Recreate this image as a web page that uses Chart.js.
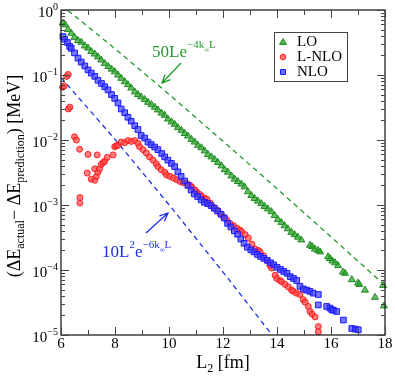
<!DOCTYPE html>
<html>
<head>
<meta charset="utf-8">
<script src="https://cdn.jsdelivr.net/npm/chart.js@4/dist/chart.umd.min.js"></script>
<style>
  html, body { margin: 0; padding: 0; background: #fff; }
  canvas { display: block; }
</style>
</head>
<body>
<canvas id="chart" width="395" height="378"></canvas>
<script>
// LO (triangles)
const loL = [6.06,6.16,6.26,6.38,6.50,6.63,6.75,6.88,7.00,7.12,7.25,7.37,7.49,7.62,7.75,7.87,7.99,8.11,8.23,8.36,8.48,8.60,8.73,8.85,8.97,9.10,9.22,9.35,9.47,9.59,9.72,9.84,9.96,10.09,10.21,10.33,10.46,10.58,10.70,10.83,10.95,11.07,11.20,11.32,11.44,11.57,11.69,11.81,11.94,12.06,12.18,12.31,12.43,12.55,12.68,12.80,12.92,13.05,13.17,13.29,13.42,13.54,13.66,13.79,13.91,14.03,14.16,14.28,14.40,14.53,14.65,14.77,14.90,15.22,15.30,15.40,15.52,15.60,15.89,15.96,16.05,16.15,16.26,16.44,16.52,16.77,17.00,17.05,17.26,17.63,17.93,17.96];
const loE = [0.63,0.59,0.50,0.44,0.38,0.34,0.32,0.28,0.26,0.23,0.21,0.19,0.17,0.15,0.135,0.123,0.112,0.100,0.089,0.079,0.071,0.063,0.055,0.050,0.046,0.042,0.038,0.035,0.032,0.029,0.026,0.024,0.021,0.019,0.0174,0.0155,0.0141,0.0126,0.0115,0.0102,0.0093,0.0083,0.0076,0.0068,0.0060,0.0055,0.0050,0.0045,0.0040,0.0035,0.0032,0.0028,0.0025,0.0023,0.0021,0.0019,0.0016,0.0014,0.00126,0.00115,0.00105,0.00095,0.00087,0.00079,0.00069,0.00060,0.00054,0.00048,0.00043,0.00038,0.00035,0.00032,0.00029,0.00024,0.00023,0.00021,0.00020,0.00019,0.00016,0.00015,0.000138,0.000129,0.000117,9.3e-5,8.9e-5,7.1e-5,6.3e-5,6.0e-5,4.9e-5,3.8e-5,5.8e-5,2.8e-5];

// L-NLO (circles)
const lnloL = [6.06,6.12,6.21,6.27,6.27,6.33,6.50,6.57,6.69,6.70,6.70,6.97,7.00,7.12,7.25,7.25,7.31,7.34,7.37,7.43,7.49,7.56,7.62,7.71,7.93,7.99,8.05,8.11,8.23,8.36,8.48,8.60,8.73,8.85,8.91,9.04,9.16,9.28,9.41,9.53,9.59,9.71,9.84,9.91,10.04,10.16,10.29,10.41,10.53,10.66,10.78,10.84,10.96,11.03,11.15,11.21,11.33,11.40,11.52,11.64,11.77,11.89,12.01,12.14,12.26,12.39,12.51,12.63,12.69,12.82,12.94,13.07,13.19,13.31,13.37,13.50,13.62,13.74,13.80,13.93,13.99,14.11,14.17,14.30,14.42,14.54,14.60,14.72,14.85,14.97,15.04,15.16,15.22,15.30,15.41,15.53,15.53];
const lnloE = [0.065,0.068,0.095,0.102,0.030,0.032,0.0112,0.010,0.0072,0.0013,0.00107,0.0031,0.006,0.0025,0.0024,0.0036,0.00275,0.0059,0.0032,0.0036,0.0042,0.0045,0.0047,0.0054,0.0059,0.0079,0.0081,0.0083,0.0093,0.0091,0.0098,0.0095,0.0098,0.0089,0.0079,0.0071,0.0063,0.0055,0.0049,0.0043,0.0039,0.0035,0.0032,0.0029,0.00275,0.0026,0.00245,0.0023,0.0022,0.00214,0.002,0.0019,0.0017,0.00158,0.00145,0.00135,0.00126,0.00123,0.00107,0.00093,0.00083,0.00074,0.00066,0.00059,0.00052,0.00048,0.00044,0.00041,0.00039,0.00035,0.00031,0.00025,0.00021,0.0002,0.00019,0.000166,0.000141,0.000117,0.000107,8.3e-5,7.4e-5,6.9e-5,6.6e-5,6.0e-5,5.5e-5,4.9e-5,4.7e-5,4.4e-5,4.2e-5,3.5e-5,3.2e-5,2.75e-5,2.3e-5,2.1e-5,1.9e-5,1.35e-5,1.12e-5];

// NLO (squares)
const nloL = [6.07,6.13,6.24,6.32,6.38,6.50,6.63,6.75,6.88,7.00,7.12,7.25,7.37,7.50,7.62,7.74,7.87,7.99,8.11,8.23,8.36,8.48,8.60,8.73,8.85,8.97,9.10,9.22,9.34,9.47,9.59,9.73,9.84,9.96,10.09,10.21,10.33,10.45,10.58,10.70,10.82,10.94,11.06,11.19,11.31,11.43,11.56,11.68,11.80,11.93,12.05,12.17,12.29,12.42,12.54,12.66,12.78,12.90,13.03,13.15,13.27,13.39,13.51,13.64,13.76,13.88,14.00,14.13,14.25,14.37,14.49,14.61,14.73,14.85,14.98,15.10,15.22,15.34,15.53,15.53,15.84,15.96,16.03,16.09,16.21,16.46,16.77,16.90,17.01];
const nloE = [0.39,0.355,0.316,0.275,0.257,0.219,0.182,0.158,0.138,0.120,0.107,0.0955,0.083,0.074,0.066,0.059,0.050,0.0437,0.0372,0.030,0.0263,0.0224,0.0195,0.0166,0.0145,0.0117,0.0107,0.0093,0.0085,0.0078,0.0071,0.0062,0.0055,0.0049,0.00437,0.0039,0.00324,0.00275,0.00234,0.0020,0.0017,0.00148,0.00135,0.0012,0.0011,0.00105,0.00098,0.00089,0.00081,0.00072,0.00063,0.00052,0.00046,0.0004,0.000355,0.0003,0.000257,0.000224,0.000204,0.00019,0.000174,0.000162,0.000151,0.000141,0.000129,0.00012,0.00011,0.000102,9.5e-5,8.9e-5,7.9e-5,7.4e-5,6.9e-5,5.6e-5,5.1e-5,4.9e-5,4.7e-5,4.4e-5,4.2e-5,2.9e-5,2.75e-5,2.6e-5,2.45e-5,2.4e-5,2.3e-5,1.7e-5,1.26e-5,1.23e-5,1.2e-5];

// dashed guide lines
const fitLoL = [6, 8, 10, 12, 14, 16, 18];
const fitLoE = [1.2, 0.254, 0.0505, 0.0096, 0.00178, 0.000323, 5.8e-5];
const fitNloL = [6, 8, 10, 12, 14];
const fitNloE = [0.0914, 0.01025, 1.01e-3, 9.3e-5, 8.0e-6];

const xTicks = [6, 8, 10, 12, 14, 16, 18];
const xMinorTicks = [7, 9, 11, 13, 15, 17];
const yTicks = [1, 1e-1, 1e-2, 1e-3, 1e-4, 1e-5];
const yTickExp = ['0', '\u22121', '\u22122', '\u22123', '\u22124', '\u22125'];

const SERIF = '"Liberation Serif", "DejaVu Serif", serif';
const GREEN = '#22992a';
const BLUE = '#1d2fe6';

function pts(xs, ys) {
    return xs.map((x, i) => ({ x: x, y: ys[i] }));
}

// draws a run of text pieces: [text, size, dy]
function richText(ctx, parts, x, y, align) {
    let w = 0;
    parts.forEach(p => {
        ctx.font = p[1] + 'px ' + SERIF;
        w += ctx.measureText(p[0]).width;
    });
    let cx = x;
    if (align === 'center') cx = x - w / 2;
    if (align === 'right') cx = x - w;
    parts.forEach(p => {
        ctx.font = p[1] + 'px ' + SERIF;
        ctx.fillText(p[0], cx, y + (p[2] || 0));
        cx += ctx.measureText(p[0]).width;
    });
}

function arrow(ctx, x0, y0, x1, y1, color) {
    const a = Math.atan2(y1 - y0, x1 - x0);
    const len = 9, spread = 0.42;
    ctx.save();
    ctx.strokeStyle = color;
    ctx.lineWidth = 1.3;
    ctx.beginPath();
    ctx.moveTo(x0, y0);
    ctx.lineTo(x1, y1);
    ctx.moveTo(x1 - len * Math.cos(a - spread), y1 - len * Math.sin(a - spread));
    ctx.lineTo(x1, y1);
    ctx.lineTo(x1 - len * Math.cos(a + spread), y1 - len * Math.sin(a + spread));
    ctx.stroke();
    ctx.restore();
}

const framePlugin = {
    id: 'frame',
    afterDraw(chart) {
        const ctx = chart.ctx;
        const area = chart.chartArea;
        const xs = chart.scales.x;
        const ys = chart.scales.y;
        ctx.save();

        // box
        ctx.strokeStyle = '#111';
        ctx.lineWidth = 1.2;
        ctx.strokeRect(area.left, area.top, area.right - area.left, area.bottom - area.top);

        // x ticks, inward on bottom and top
        ctx.lineWidth = 1;
        ctx.strokeStyle = '#444';
        ctx.beginPath();
        xTicks.forEach(v => {
            const p = Math.round(xs.getPixelForValue(v)) + 0.5;
            ctx.moveTo(p, area.bottom); ctx.lineTo(p, area.bottom - 8);
            ctx.moveTo(p, area.top); ctx.lineTo(p, area.top + 8);
        });
        xMinorTicks.forEach(v => {
            const p = Math.round(xs.getPixelForValue(v)) + 0.5;
            ctx.moveTo(p, area.bottom); ctx.lineTo(p, area.bottom - 5);
            ctx.moveTo(p, area.top); ctx.lineTo(p, area.top + 5);
        });
        // y ticks, inward on left and right
        yTicks.forEach(v => {
            const p = Math.round(ys.getPixelForValue(v)) + 0.5;
            ctx.moveTo(area.left, p); ctx.lineTo(area.left + 8, p);
            ctx.moveTo(area.right, p); ctx.lineTo(area.right - 8, p);
        });
        for (let d = -5; d < 0; d++) {
            for (let m = 2; m <= 9; m++) {
                const p = Math.round(ys.getPixelForValue(m * Math.pow(10, d))) + 0.5;
                ctx.moveTo(area.left, p); ctx.lineTo(area.left + 4, p);
                ctx.moveTo(area.right, p); ctx.lineTo(area.right - 4, p);
            }
        }
        ctx.stroke();

        // tick labels
        ctx.fillStyle = '#000';
        ctx.textBaseline = 'alphabetic';
        ctx.textAlign = 'left';
        xTicks.forEach(v => {
            richText(ctx, [[String(v), 15, 0]], xs.getPixelForValue(v), area.bottom + 13, 'center');
        });
        yTicks.forEach((v, i) => {
            const p = ys.getPixelForValue(v);
            richText(ctx, [['10', 15, 0], [yTickExp[i], 10, -7]], area.left - 3, p + 7, 'right');
        });

        // axis titles
        richText(ctx, [['L', 18, 0], ['2', 12, 4], [' [fm]', 18, 0]], 223, 368, 'center');
        ctx.save();
        ctx.translate(20, 176);
        ctx.rotate(-Math.PI / 2);
        richText(ctx, [['(\u0394E', 18, 0], ['actual', 12, 4], ['\u2212 \u0394E', 18, 0],
                       ['prediction', 12, 4], [') [MeV]', 18, 0]], 0, 0, 'center');
        ctx.restore();

        // annotations
        ctx.fillStyle = GREEN;
        richText(ctx, [['50Le', 17, 0], ['\u22124k', 11, -9], ['\u221e', 7, -5], ['L', 11, -9]], 152, 57, 'left');
        arrow(ctx, 181, 63, 162, 83, GREEN);
        ctx.fillStyle = BLUE;
        richText(ctx, [['10L', 17, 0], ['2', 11, -9], ['e', 17, 0], ['\u22126k', 11, -9], ['\u221e', 7, -5], ['L', 11, -9]], 102, 257, 'left');
        arrow(ctx, 146, 233, 168, 213, BLUE);

        // legend
        ctx.strokeStyle = '#444';
        ctx.lineWidth = 1;
        ctx.strokeRect(274.5, 32.5, 73, 49);
        const rows = [
            ['LO', 'triangle', 'rgba(40,160,40,0.8)', '#1e8c1e', 42],
            ['L-NLO', 'circle', 'rgba(255,70,70,0.75)', '#ff2020', 57],
            ['NLO', 'rect', 'rgba(60,60,255,0.75)', '#1a1aff', 72]
        ];
        rows.forEach(r => {
            ctx.fillStyle = r[2];
            ctx.strokeStyle = r[3];
            ctx.beginPath();
            if (r[1] === 'triangle') {
                ctx.moveTo(283, r[4] - 3.5); ctx.lineTo(286.5, r[4] + 2.5); ctx.lineTo(279.5, r[4] + 2.5); ctx.closePath();
            } else if (r[1] === 'circle') {
                ctx.arc(283, r[4], 2.8, 0, Math.PI * 2);
            } else {
                ctx.rect(280.5, r[4] - 2.5, 5, 5);
            }
            ctx.fill();
            ctx.stroke();
            ctx.fillStyle = '#000';
            ctx.textBaseline = 'middle';
            richText(ctx, [[r[0], 15, 0]], 297, r[4] + 0.5, 'left');
            ctx.textBaseline = 'alphabetic';
        });

        ctx.restore();
    }
};

new Chart(document.getElementById('chart'), {
    type: 'scatter',
    data: {
        datasets: [
            {
                label: 'NLO', data: pts(nloL, nloE), pointStyle: 'rect', pointRadius: 4,
                backgroundColor: 'rgba(60,60,255,0.7)', borderColor: '#1a1aff', borderWidth: 1,
                order: 1, clip: false
            },
            {
                label: 'L-NLO', data: pts(lnloL, lnloE), pointStyle: 'circle', pointRadius: 3,
                backgroundColor: 'rgba(255,70,70,0.7)', borderColor: 'rgba(255,20,20,0.9)', borderWidth: 1,
                order: 2, clip: false
            },
            {
                label: 'LO', data: pts(loL, loE), pointStyle: 'triangle', pointRadius: 4,
                backgroundColor: 'rgba(40,160,40,0.7)', borderColor: '#1e8c1e', borderWidth: 1,
                order: 3, clip: false
            },
            {
                type: 'line', label: 'fit LO', data: pts(fitLoL, fitLoE), showLine: true,
                borderColor: GREEN, borderWidth: 1.3, borderDash: [5, 4], pointRadius: 0,
                fill: false, order: 4, clip: 0
            },
            {
                type: 'line', label: 'fit NLO', data: pts(fitNloL, fitNloE), showLine: true,
                borderColor: BLUE, borderWidth: 1.3, borderDash: [5, 4], pointRadius: 0,
                fill: false, order: 5, clip: 0
            }
        ]
    },
    options: {
        responsive: false,
        animation: false,
        layout: { padding: { left: 61, top: 10, right: 10, bottom: 43 } },
        plugins: { legend: { display: false }, tooltip: { enabled: false } },
        scales: {
            x: { type: 'linear', min: 6, max: 18, display: false },
            y: { type: 'logarithmic', min: 1e-5, max: 1, display: false }
        }
    },
    plugins: [framePlugin]
});
</script>
</body>
</html>
